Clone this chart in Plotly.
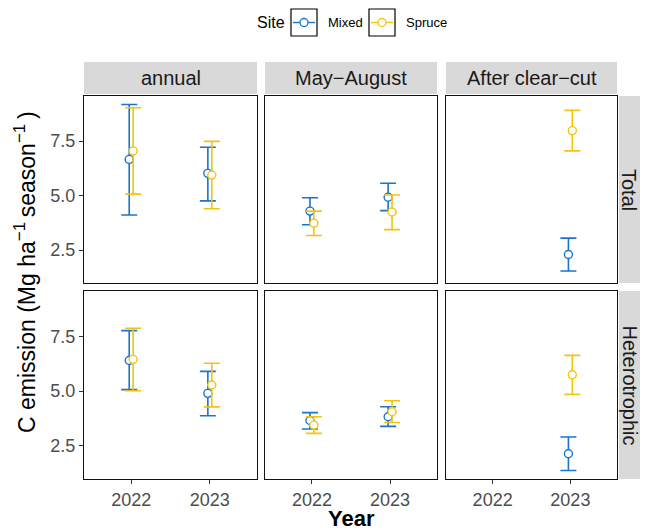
import plotly.graph_objects as go

# ---------------- data ----------------
years = ["2022", "2023"]
periods = ["annual", "May\u2212August", "After clear\u2212cut"]
components = ["Total", "Heterotrophic"]
sites = ["Mixed", "Spruce"]

# mean / lower / upper per component -> period -> [2022, 2023]
mixed_total_mean = [[6.66, 6.02], [4.29, 4.93], [None, 2.30]]
mixed_total_lo   = [[4.11, 4.76], [3.66, 4.31], [None, 1.54]]
mixed_total_hi   = [[9.18, 7.22], [4.90, 5.57], [None, 3.05]]

spruce_total_mean = [[7.05, 5.94], [3.73, 4.25], [None, 7.98]]
spruce_total_lo   = [[5.07, 4.40], [3.17, 3.44], [None, 7.05]]
spruce_total_hi   = [[9.03, 7.49], [4.29, 5.03], [None, 8.91]]

mixed_het_mean = [[6.40, 4.90], [3.66, 3.83], [None, 2.14]]
mixed_het_lo   = [[5.07, 3.88], [3.27, 3.39], [None, 1.38]]
mixed_het_hi   = [[7.76, 5.90], [4.02, 4.29], [None, 2.91]]

spruce_het_mean = [[6.45, 5.28], [3.45, 4.06], [None, 5.75]]
spruce_het_lo   = [[5.02, 4.28], [3.07, 3.57], [None, 4.85]]
spruce_het_hi   = [[7.87, 6.27], [3.83, 4.56], [None, 6.63]]

y_tickvals = [2.5, 5.0, 7.5]
y_ticktext = ["2.5", "5.0", "7.5"]

# ---------------- style ----------------
W, H = 648, 530
FONT = "Liberation Sans, Arial, Helvetica, sans-serif"
colors = {"Mixed": "#1874CD", "Spruce": "#F2C40C"}
dodge = {"Mixed": -0.025, "Spruce": 0.025}
col_px = [(84, 257), (265, 437), (446, 617)]
row_px = [(96, 283), (291, 479)]
strip_top = (62, 94)
strip_right = (619, 640)
y_range = [0.99, 9.57]
x_range = [0.4, 2.6]
STRIP_SIZE = 20
TICK_SIZE = 18

data = {
    ("Mixed", "Total"): (mixed_total_mean, mixed_total_lo, mixed_total_hi),
    ("Spruce", "Total"): (spruce_total_mean, spruce_total_lo, spruce_total_hi),
    ("Mixed", "Heterotrophic"): (mixed_het_mean, mixed_het_lo, mixed_het_hi),
    ("Spruce", "Heterotrophic"): (spruce_het_mean, spruce_het_lo, spruce_het_hi),
}

def px_x(p):
    return p / W

def px_y(p):
    return 1 - p / H

fig = go.Figure()
layout = {}
shapes = []
annotations = []

for r, comp in enumerate(components):
    for c, per in enumerate(periods):
        idx = r * 3 + c + 1
        xa = "x" if idx == 1 else f"x{idx}"
        ya = "y" if idx == 1 else f"y{idx}"
        xkey = "xaxis" if idx == 1 else f"xaxis{idx}"
        ykey = "yaxis" if idx == 1 else f"yaxis{idx}"
        layout[xkey] = dict(
            domain=[px_x(col_px[c][0]), px_x(col_px[c][1])],
            anchor=ya, range=x_range,
            tickvals=[1, 2], ticktext=years,
            showticklabels=(r == 1), ticks="outside" if r == 1 else "",
            ticklen=4, tickwidth=1, tickcolor="#333333",
            tickfont=dict(family=FONT, size=TICK_SIZE, color="#4D4D4D"),
            showgrid=False, zeroline=False,
            showline=True, mirror=True, linecolor="#111111", linewidth=1.4,
            fixedrange=True,
        )
        layout[ykey] = dict(
            domain=[px_y(row_px[r][1]), px_y(row_px[r][0])],
            anchor=xa, range=y_range,
            tickvals=y_tickvals, ticktext=y_ticktext,
            showticklabels=(c == 0), ticks="outside" if c == 0 else "",
            ticklen=4, tickwidth=1, tickcolor="#333333",
            tickfont=dict(family=FONT, size=TICK_SIZE, color="#4D4D4D"),
            showgrid=False, zeroline=False,
            showline=True, mirror=True, linecolor="#111111", linewidth=1.4,
            fixedrange=True,
        )
        for s in sites:
            mean, lo, hi = data[(s, comp)]
            m = mean[c]
            xs, ys, ep, em = [], [], [], []
            for j in range(len(years)):
                if m[j] is None:
                    continue
                xs.append(j + 1 + dodge[s])
                ys.append(m[j])
                ep.append(hi[c][j] - m[j])
                em.append(m[j] - lo[c][j])
            fig.add_trace(go.Scatter(
                x=xs, y=ys, xaxis=xa, yaxis=ya, mode="markers",
                marker=dict(symbol="circle", size=8, color="white",
                            line=dict(color=colors[s], width=1.4)),
                error_y=dict(type="data", symmetric=False, array=ep, arrayminus=em,
                             color=colors[s], thickness=1.6, width=8),
                showlegend=False, name=s, hoverinfo="skip",
            ))

# strips
for c, per in enumerate(periods):
    shapes.append(dict(type="rect", xref="paper", yref="paper",
                       x0=px_x(col_px[c][0]), x1=px_x(col_px[c][1]),
                       y0=px_y(strip_top[1]), y1=px_y(strip_top[0]),
                       fillcolor="#D9D9D9", line=dict(width=0), layer="below"))
    annotations.append(dict(text=per, xref="paper", yref="paper",
                            x=px_x((col_px[c][0] + col_px[c][1]) / 2),
                            y=px_y((strip_top[0] + strip_top[1]) / 2),
                            showarrow=False, xanchor="center", yanchor="middle",
                            font=dict(family=FONT, size=STRIP_SIZE, color="#1A1A1A")))
for r, comp in enumerate(components):
    shapes.append(dict(type="rect", xref="paper", yref="paper",
                       x0=px_x(strip_right[0]), x1=px_x(strip_right[1]),
                       y0=px_y(row_px[r][1]), y1=px_y(row_px[r][0]),
                       fillcolor="#D9D9D9", line=dict(width=0), layer="below"))
    annotations.append(dict(text=comp, xref="paper", yref="paper",
                            x=px_x((strip_right[0] + strip_right[1]) / 2),
                            y=px_y((row_px[r][0] + row_px[r][1]) / 2),
                            showarrow=False, textangle=90,
                            xanchor="center", yanchor="middle",
                            font=dict(family=FONT, size=STRIP_SIZE, color="#1A1A1A")))

# axis titles
sup = "<sup><span style='font-size:17px'>\u22121</span></sup>"
annotations.append(dict(text=f"C emission (Mg ha{sup}\u2009season{sup}\u2009)",
                        xref="paper", yref="paper", x=px_x(25), y=px_y(272),
                        showarrow=False, textangle=-90, xanchor="center", yanchor="middle",
                        font=dict(family=FONT, size=23, color="black")))
annotations.append(dict(text="<b>Year</b>", xref="paper", yref="paper",
                        x=px_x(351), y=px_y(518), showarrow=False,
                        xanchor="center", yanchor="middle",
                        font=dict(family=FONT, size=22, color="black")))

# legend (manual)
annotations.append(dict(text="Site", xref="paper", yref="paper", x=px_x(255), y=px_y(23),
                        showarrow=False, xanchor="left", yanchor="middle",
                        font=dict(family=FONT, size=16, color="black")))
leg_boxes = {"Mixed": 291, "Spruce": 369}
for s in sites:
    bx = leg_boxes[s]
    shapes.append(dict(type="rect", xref="paper", yref="paper",
                       x0=px_x(bx), x1=px_x(bx + 26), y0=px_y(36), y1=px_y(9),
                       fillcolor="white", line=dict(color="black", width=1.2)))
    shapes.append(dict(type="line", xref="paper", yref="paper",
                       x0=px_x(bx + 2), x1=px_x(bx + 24), y0=px_y(22.5), y1=px_y(22.5),
                       line=dict(color=colors[s], width=1.4)))
    shapes.append(dict(type="circle", xref="paper", yref="paper",
                       xsizemode="pixel", ysizemode="pixel",
                       xanchor=px_x(bx + 13), yanchor=px_y(22.5),
                       x0=-4, x1=4, y0=-4, y1=4,
                       fillcolor="white", line=dict(color=colors[s], width=1.3)))
    annotations.append(dict(text=s, xref="paper", yref="paper", x=px_x(bx + 35), y=px_y(23),
                            showarrow=False, xanchor="left", yanchor="middle",
                            font=dict(family=FONT, size=13, color="black")))

fig.update_layout(
    width=W, height=H,
    margin=dict(l=0, r=0, t=0, b=0),
    paper_bgcolor="white", plot_bgcolor="white",
    showlegend=False,
    shapes=shapes, annotations=annotations,
    **layout,
)

fig.write_html("out.html", config={"displayModeBar": False},
               post_script="document.body.style.margin='0';document.body.style.overflow='hidden';")
